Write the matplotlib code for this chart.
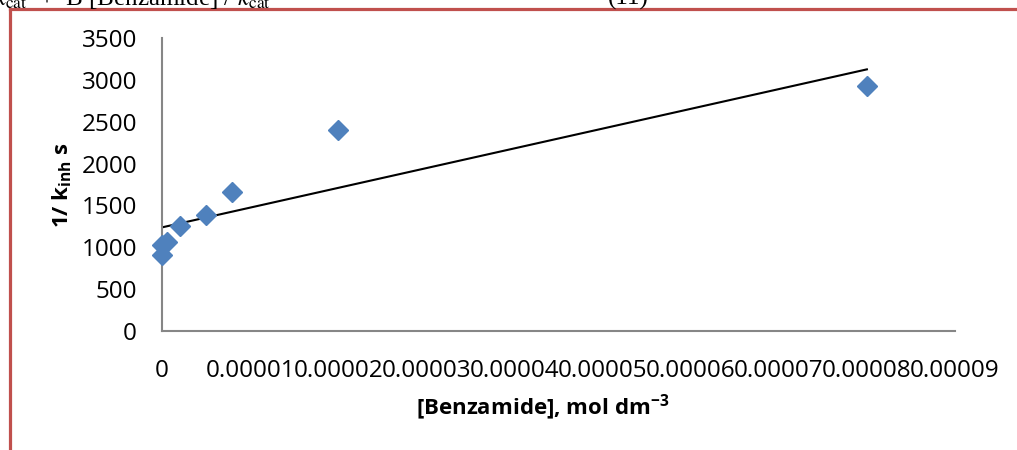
#!/usr/bin/env python3
import matplotlib
matplotlib.use("Agg")
import matplotlib.pyplot as plt
from matplotlib.lines import Line2D
import numpy as np

# Data
benzamide = [0.0, 0.0, 0.6e-6, 2.0e-6, 5.0e-6, 8.0e-6, 20.0e-6, 80.0e-6]
inv_k_inh = [910, 1030, 1060, 1260, 1380, 1660, 2400, 2930]

x_ticks = [i * 1e-5 for i in range(10)]
x_tick_labels = ['0'] + ['%.5f' % t for t in x_ticks[1:]]
y_ticks = list(range(0, 3501, 500))

W, H = 1017, 450
plt.rcParams['font.family'] = ['Open Sans', 'DejaVu Sans']
plt.rcParams['mathtext.fontset'] = 'custom'
plt.rcParams['mathtext.rm'] = 'Open Sans'
plt.rcParams['mathtext.bf'] = 'Open Sans:bold'
plt.rcParams['mathtext.it'] = 'Open Sans:italic'

fig = plt.figure(figsize=(W / 100, H / 100), dpi=100)
ax = fig.add_axes([162 / W, 1 - 331 / H, (955 - 162) / W, (331 - 38) / H])

# points and least-squares trendline
ax.plot(benzamide, inv_k_inh, 'D', color='#4F81BD', markersize=10,
        markeredgecolor='#4F81BD', zorder=3, clip_on=False)
slope, intercept = np.polyfit(benzamide, inv_k_inh, 1)
xs = np.array([0.0, max(benzamide)])
ax.plot(xs, slope * xs + intercept, '-', color='black', linewidth=1.5, zorder=2)

ax.set_xlim(0, 9e-5)
ax.set_ylim(0, 3500)
ax.set_xticks(x_ticks)
ax.set_xticklabels(x_tick_labels)
ax.set_yticks(y_ticks)
ax.tick_params(length=0, labelsize=17.5)
ax.tick_params(axis='y', pad=18)
ax.tick_params(axis='x', pad=20)
for s in ['top', 'right']:
    ax.spines[s].set_visible(False)
for s in ['left', 'bottom']:
    ax.spines[s].set_color('#868686')
    ax.spines[s].set_linewidth(1.5)

fig.text(62 / W, 1 - 185 / H, r"1/ k$_{\mathbf{inh}}$ s", rotation=90,
         ha='center', va='center', fontsize=16, fontweight='bold')
fig.text(543 / W, 1 - 408 / H, r"[Benzamide], mol dm$^{\mathbf{-3}}$",
         ha='center', va='center', fontsize=16, fontweight='bold')

# cut-off equation line above the chart frame
eq = dict(family='Liberation Serif', math_fontfamily='stix', fontsize=18,
          va='baseline', color='black')
fig.text(-6 / W, 1 - 5 / H, r"$k_{\mathrm{cat}}$  +  B [Benzamide] / $k_{\mathrm{cat}}$", **eq)
fig.text(608 / W, 1 - 5 / H, "(11)", **eq)

# red frame
red = '#C0504D'
fig.add_artist(Line2D([10 / W, 1], [1 - 9 / H, 1 - 9 / H], color=red, linewidth=2.3,
                      transform=fig.transFigure))
fig.add_artist(Line2D([10 / W, 10 / W], [0, 1 - 9 / H], color=red, linewidth=2.3,
                      transform=fig.transFigure))

fig.savefig('out.png', dpi=100)
